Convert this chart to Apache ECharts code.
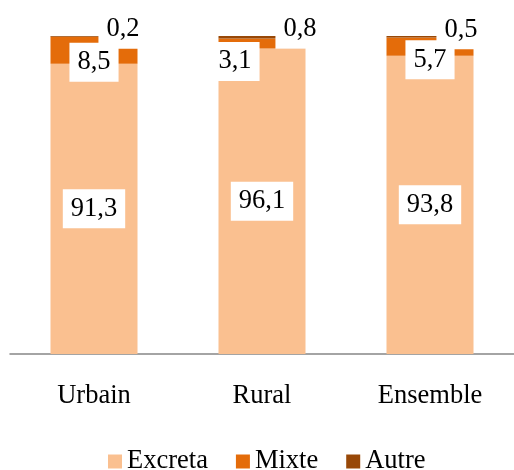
<!DOCTYPE html>
<html>
<head>
<meta charset="utf-8">
<script src="https://cdn.jsdelivr.net/npm/echarts@6/dist/echarts.min.js"></script>
<style>html,body{margin:0;padding:0;background:#fff;}#chart{width:514px;height:470px;}</style>
</head>
<body>
<div id="chart"></div>
<script>
const categories = ['Urbain', 'Rural', 'Ensemble'];
const excreta = [91.3, 96.1, 93.8];
const mixte = [8.5, 3.1, 5.7];
const autre = [0.2, 0.8, 0.5];
const seriesNames = ['Excreta', 'Mixte', 'Autre'];

const FONT = 'Liberation Serif';
const colors = ['#FAC090', '#E46C0A', '#984807'];
const mixteOffsets = [[0, 12], [-27, 18], [0, 13]];
const autreOffsets = [[29, -7], [38, -8], [31, -7]];

function fmt(v) { return String(v).replace('.', ','); }

const baseLabel = {
  show: true,
  position: 'inside',
  color: '#000',
  fontFamily: FONT,
  fontSize: 26.5,
  lineHeight: 27,
  backgroundColor: '#fff',
  padding: [6, 8],
  formatter: p => fmt(p.value)
};

function mk(name, vals, color, offsets) {
  return {
    name: name,
    type: 'bar',
    stack: 'total',
    barWidth: 87,
    itemStyle: { color: color },
    label: baseLabel,
    z: 2,
    data: vals.map((v, i) => offsets ? { value: v, label: { offset: offsets[i] } } : v)
  };
}

const chart = echarts.init(document.getElementById('chart'), null, { renderer: 'canvas' });
chart.setOption({
  animation: false,
  backgroundColor: '#fff',
  grid: { left: 10, top: 36, width: 509, bottom: 116, containLabel: false },
  xAxis: {
    type: 'category',
    data: categories,
    axisLine: { show: true, lineStyle: { color: '#868686', width: 1.5 } },
    axisTick: { show: false },
    axisLabel: { color: '#000', fontFamily: FONT, fontSize: 26.5, margin: 29 }
  },
  yAxis: {
    type: 'value', min: 0, max: 100,
    show: false,
    splitLine: { show: false }
  },
  legend: {
    top: 448, left: 108,
    padding: 0,
    itemWidth: 14, itemHeight: 14, itemGap: 28,
    icon: 'rect',
    textStyle: { color: '#000', fontFamily: FONT, fontSize: 26.5 },
    data: seriesNames
  },
  series: [
    mk(seriesNames[0], excreta, colors[0], null),
    mk(seriesNames[1], mixte, colors[1], mixteOffsets),
    mk(seriesNames[2], autre, colors[2], autreOffsets)
  ]
});
</script>
</body>
</html>
